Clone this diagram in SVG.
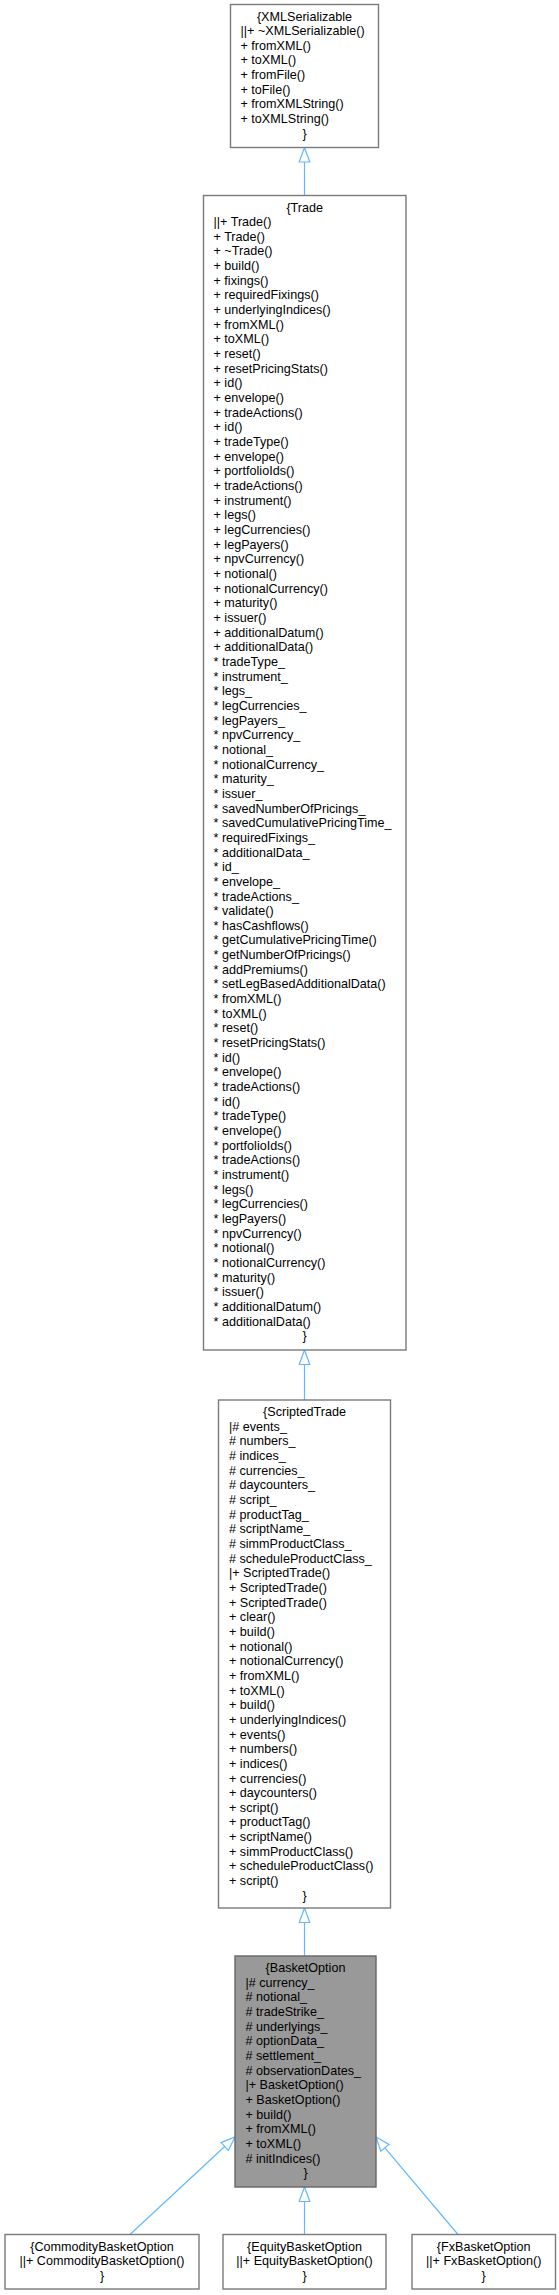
<svg xmlns="http://www.w3.org/2000/svg" width="559" height="2295" viewBox="0 0 559 2295">
<style>
.t { font-family: "Liberation Sans", Arial, Helvetica, sans-serif; font-size: 12.6px; fill: #000; }
.c { text-anchor: middle; }
.box { fill: #ffffff; stroke: #7a7a7a; stroke-width: 1.4; }
.boxh { fill: #999999; stroke: #666666; stroke-width: 1.4; }
.edge { stroke: #63b8ff; stroke-width: 1.2; fill: none; }
.ah { fill: #ffffff; stroke: #63b8ff; stroke-width: 1.2; }
</style>
<rect width="559" height="2295" fill="#ffffff"/>
<g id="connectors">
  <line class="edge" x1="304.5" y1="195.5" x2="304.5" y2="162"/>
  <polygon class="ah" points="304.5,147.5 299.2,162 309.8,162"/>
  <line class="edge" x1="304.5" y1="1400" x2="304.5" y2="1364.5"/>
  <polygon class="ah" points="304.5,1350 299.2,1364.5 309.8,1364.5"/>
  <line class="edge" x1="304.5" y1="1956" x2="304.5" y2="1922.5"/>
  <polygon class="ah" points="304.5,1908 299.2,1922.5 309.8,1922.5"/>
  <line class="edge" x1="304.5" y1="2234.5" x2="304.5" y2="2201.5"/>
  <polygon class="ah" points="304.5,2187 299.2,2201.5 309.8,2201.5"/>
  <line class="edge" x1="130" y1="2234.5" x2="224.7" y2="2146.5"/>
  <polygon class="ah" points="235,2137 228.3,2150.4 221.1,2142.6"/>
  <line class="edge" x1="458" y1="2234.5" x2="384.9" y2="2147.8"/>
  <polygon class="ah" points="376,2137 389,2144.4 380.8,2151.2"/>
</g>
<g id="XMLSerializable">
  <rect class="box" x="230.5" y="4.5" width="148" height="143"/>
  <text class="t" y="20.5"><tspan class="c" x="304.5">{XMLSerializable</tspan><tspan x="240.5" dy="14.66">||+ ~XMLSerializable()</tspan><tspan x="240.5" dy="14.66">+ fromXML()</tspan><tspan x="240.5" dy="14.66">+ toXML()</tspan><tspan x="240.5" dy="14.66">+ fromFile()</tspan><tspan x="240.5" dy="14.66">+ toFile()</tspan><tspan x="240.5" dy="14.66">+ fromXMLString()</tspan><tspan x="240.5" dy="14.66">+ toXMLString()</tspan><tspan class="c" x="304.5" dy="14.66">}</tspan></text>
</g>
<g id="Trade">
  <rect class="box" x="203.5" y="195.5" width="202.5" height="1154.5"/>
  <text class="t" y="211.5"><tspan class="c" x="304.7">{Trade</tspan><tspan x="213.5" dy="14.66">||+ Trade()</tspan><tspan x="213.5" dy="14.66">+ Trade()</tspan><tspan x="213.5" dy="14.66">+ ~Trade()</tspan><tspan x="213.5" dy="14.66">+ build()</tspan><tspan x="213.5" dy="14.66">+ fixings()</tspan><tspan x="213.5" dy="14.66">+ requiredFixings()</tspan><tspan x="213.5" dy="14.66">+ underlyingIndices()</tspan><tspan x="213.5" dy="14.66">+ fromXML()</tspan><tspan x="213.5" dy="14.66">+ toXML()</tspan><tspan x="213.5" dy="14.66">+ reset()</tspan><tspan x="213.5" dy="14.66">+ resetPricingStats()</tspan><tspan x="213.5" dy="14.66">+ id()</tspan><tspan x="213.5" dy="14.66">+ envelope()</tspan><tspan x="213.5" dy="14.66">+ tradeActions()</tspan><tspan x="213.5" dy="14.66">+ id()</tspan><tspan x="213.5" dy="14.66">+ tradeType()</tspan><tspan x="213.5" dy="14.66">+ envelope()</tspan><tspan x="213.5" dy="14.66">+ portfolioIds()</tspan><tspan x="213.5" dy="14.66">+ tradeActions()</tspan><tspan x="213.5" dy="14.66">+ instrument()</tspan><tspan x="213.5" dy="14.66">+ legs()</tspan><tspan x="213.5" dy="14.66">+ legCurrencies()</tspan><tspan x="213.5" dy="14.66">+ legPayers()</tspan><tspan x="213.5" dy="14.66">+ npvCurrency()</tspan><tspan x="213.5" dy="14.66">+ notional()</tspan><tspan x="213.5" dy="14.66">+ notionalCurrency()</tspan><tspan x="213.5" dy="14.66">+ maturity()</tspan><tspan x="213.5" dy="14.66">+ issuer()</tspan><tspan x="213.5" dy="14.66">+ additionalDatum()</tspan><tspan x="213.5" dy="14.66">+ additionalData()</tspan><tspan x="213.5" dy="14.66">* tradeType_</tspan><tspan x="213.5" dy="14.66">* instrument_</tspan><tspan x="213.5" dy="14.66">* legs_</tspan><tspan x="213.5" dy="14.66">* legCurrencies_</tspan><tspan x="213.5" dy="14.66">* legPayers_</tspan><tspan x="213.5" dy="14.66">* npvCurrency_</tspan><tspan x="213.5" dy="14.66">* notional_</tspan><tspan x="213.5" dy="14.66">* notionalCurrency_</tspan><tspan x="213.5" dy="14.66">* maturity_</tspan><tspan x="213.5" dy="14.66">* issuer_</tspan><tspan x="213.5" dy="14.66">* savedNumberOfPricings_</tspan><tspan x="213.5" dy="14.66">* savedCumulativePricingTime_</tspan><tspan x="213.5" dy="14.66">* requiredFixings_</tspan><tspan x="213.5" dy="14.66">* additionalData_</tspan><tspan x="213.5" dy="14.66">* id_</tspan><tspan x="213.5" dy="14.66">* envelope_</tspan><tspan x="213.5" dy="14.66">* tradeActions_</tspan><tspan x="213.5" dy="14.66">* validate()</tspan><tspan x="213.5" dy="14.66">* hasCashflows()</tspan><tspan x="213.5" dy="14.66">* getCumulativePricingTime()</tspan><tspan x="213.5" dy="14.66">* getNumberOfPricings()</tspan><tspan x="213.5" dy="14.66">* addPremiums()</tspan><tspan x="213.5" dy="14.66">* setLegBasedAdditionalData()</tspan><tspan x="213.5" dy="14.66">* fromXML()</tspan><tspan x="213.5" dy="14.66">* toXML()</tspan><tspan x="213.5" dy="14.66">* reset()</tspan><tspan x="213.5" dy="14.66">* resetPricingStats()</tspan><tspan x="213.5" dy="14.66">* id()</tspan><tspan x="213.5" dy="14.66">* envelope()</tspan><tspan x="213.5" dy="14.66">* tradeActions()</tspan><tspan x="213.5" dy="14.66">* id()</tspan><tspan x="213.5" dy="14.66">* tradeType()</tspan><tspan x="213.5" dy="14.66">* envelope()</tspan><tspan x="213.5" dy="14.66">* portfolioIds()</tspan><tspan x="213.5" dy="14.66">* tradeActions()</tspan><tspan x="213.5" dy="14.66">* instrument()</tspan><tspan x="213.5" dy="14.66">* legs()</tspan><tspan x="213.5" dy="14.66">* legCurrencies()</tspan><tspan x="213.5" dy="14.66">* legPayers()</tspan><tspan x="213.5" dy="14.66">* npvCurrency()</tspan><tspan x="213.5" dy="14.66">* notional()</tspan><tspan x="213.5" dy="14.66">* notionalCurrency()</tspan><tspan x="213.5" dy="14.66">* maturity()</tspan><tspan x="213.5" dy="14.66">* issuer()</tspan><tspan x="213.5" dy="14.66">* additionalDatum()</tspan><tspan x="213.5" dy="14.66">* additionalData()</tspan><tspan class="c" x="304.7" dy="14.66">}</tspan></text>
</g>
<g id="ScriptedTrade">
  <rect class="box" x="218.5" y="1400" width="172" height="508"/>
  <text class="t" y="1416"><tspan class="c" x="304.5">{ScriptedTrade</tspan><tspan x="229" dy="14.66">|# events_</tspan><tspan x="229" dy="14.66"># numbers_</tspan><tspan x="229" dy="14.66"># indices_</tspan><tspan x="229" dy="14.66"># currencies_</tspan><tspan x="229" dy="14.66"># daycounters_</tspan><tspan x="229" dy="14.66"># script_</tspan><tspan x="229" dy="14.66"># productTag_</tspan><tspan x="229" dy="14.66"># scriptName_</tspan><tspan x="229" dy="14.66"># simmProductClass_</tspan><tspan x="229" dy="14.66"># scheduleProductClass_</tspan><tspan x="229" dy="14.66">|+ ScriptedTrade()</tspan><tspan x="229" dy="14.66">+ ScriptedTrade()</tspan><tspan x="229" dy="14.66">+ ScriptedTrade()</tspan><tspan x="229" dy="14.66">+ clear()</tspan><tspan x="229" dy="14.66">+ build()</tspan><tspan x="229" dy="14.66">+ notional()</tspan><tspan x="229" dy="14.66">+ notionalCurrency()</tspan><tspan x="229" dy="14.66">+ fromXML()</tspan><tspan x="229" dy="14.66">+ toXML()</tspan><tspan x="229" dy="14.66">+ build()</tspan><tspan x="229" dy="14.66">+ underlyingIndices()</tspan><tspan x="229" dy="14.66">+ events()</tspan><tspan x="229" dy="14.66">+ numbers()</tspan><tspan x="229" dy="14.66">+ indices()</tspan><tspan x="229" dy="14.66">+ currencies()</tspan><tspan x="229" dy="14.66">+ daycounters()</tspan><tspan x="229" dy="14.66">+ script()</tspan><tspan x="229" dy="14.66">+ productTag()</tspan><tspan x="229" dy="14.66">+ scriptName()</tspan><tspan x="229" dy="14.66">+ simmProductClass()</tspan><tspan x="229" dy="14.66">+ scheduleProductClass()</tspan><tspan x="229" dy="14.66">+ script()</tspan><tspan class="c" x="304.5" dy="14.66">}</tspan></text>
</g>
<g id="BasketOption">
  <rect class="boxh" x="235" y="1956" width="141" height="231"/>
  <text class="t" y="1972"><tspan class="c" x="305.5">{BasketOption</tspan><tspan x="245.5" dy="14.66">|# currency_</tspan><tspan x="245.5" dy="14.66"># notional_</tspan><tspan x="245.5" dy="14.66"># tradeStrike_</tspan><tspan x="245.5" dy="14.66"># underlyings_</tspan><tspan x="245.5" dy="14.66"># optionData_</tspan><tspan x="245.5" dy="14.66"># settlement_</tspan><tspan x="245.5" dy="14.66"># observationDates_</tspan><tspan x="245.5" dy="14.66">|+ BasketOption()</tspan><tspan x="245.5" dy="14.66">+ BasketOption()</tspan><tspan x="245.5" dy="14.66">+ build()</tspan><tspan x="245.5" dy="14.66">+ fromXML()</tspan><tspan x="245.5" dy="14.66">+ toXML()</tspan><tspan x="245.5" dy="14.66"># initIndices()</tspan><tspan class="c" x="305.5" dy="14.66">}</tspan></text>
</g>
<g id="CommodityBasketOption">
  <rect class="box" x="5" y="2234.5" width="194" height="54.5"/>
  <text class="t c" y="2250.5"><tspan x="102">{CommodityBasketOption</tspan><tspan x="102" dy="14.66">||+ CommodityBasketOption()</tspan><tspan x="102" dy="14.66">}</tspan></text>
</g>
<g id="EquityBasketOption">
  <rect class="box" x="223" y="2234.5" width="163" height="54.5"/>
  <text class="t c" y="2250.5"><tspan x="304.5">{EquityBasketOption</tspan><tspan x="304.5" dy="14.66">||+ EquityBasketOption()</tspan><tspan x="304.5" dy="14.66">}</tspan></text>
</g>
<g id="FxBasketOption">
  <rect class="box" x="412" y="2234.5" width="143.5" height="54.5"/>
  <text class="t c" y="2250.5"><tspan x="483.7">{FxBasketOption</tspan><tspan x="483.7" dy="14.66">||+ FxBasketOption()</tspan><tspan x="483.7" dy="14.66">}</tspan></text>
</g>
</svg>
